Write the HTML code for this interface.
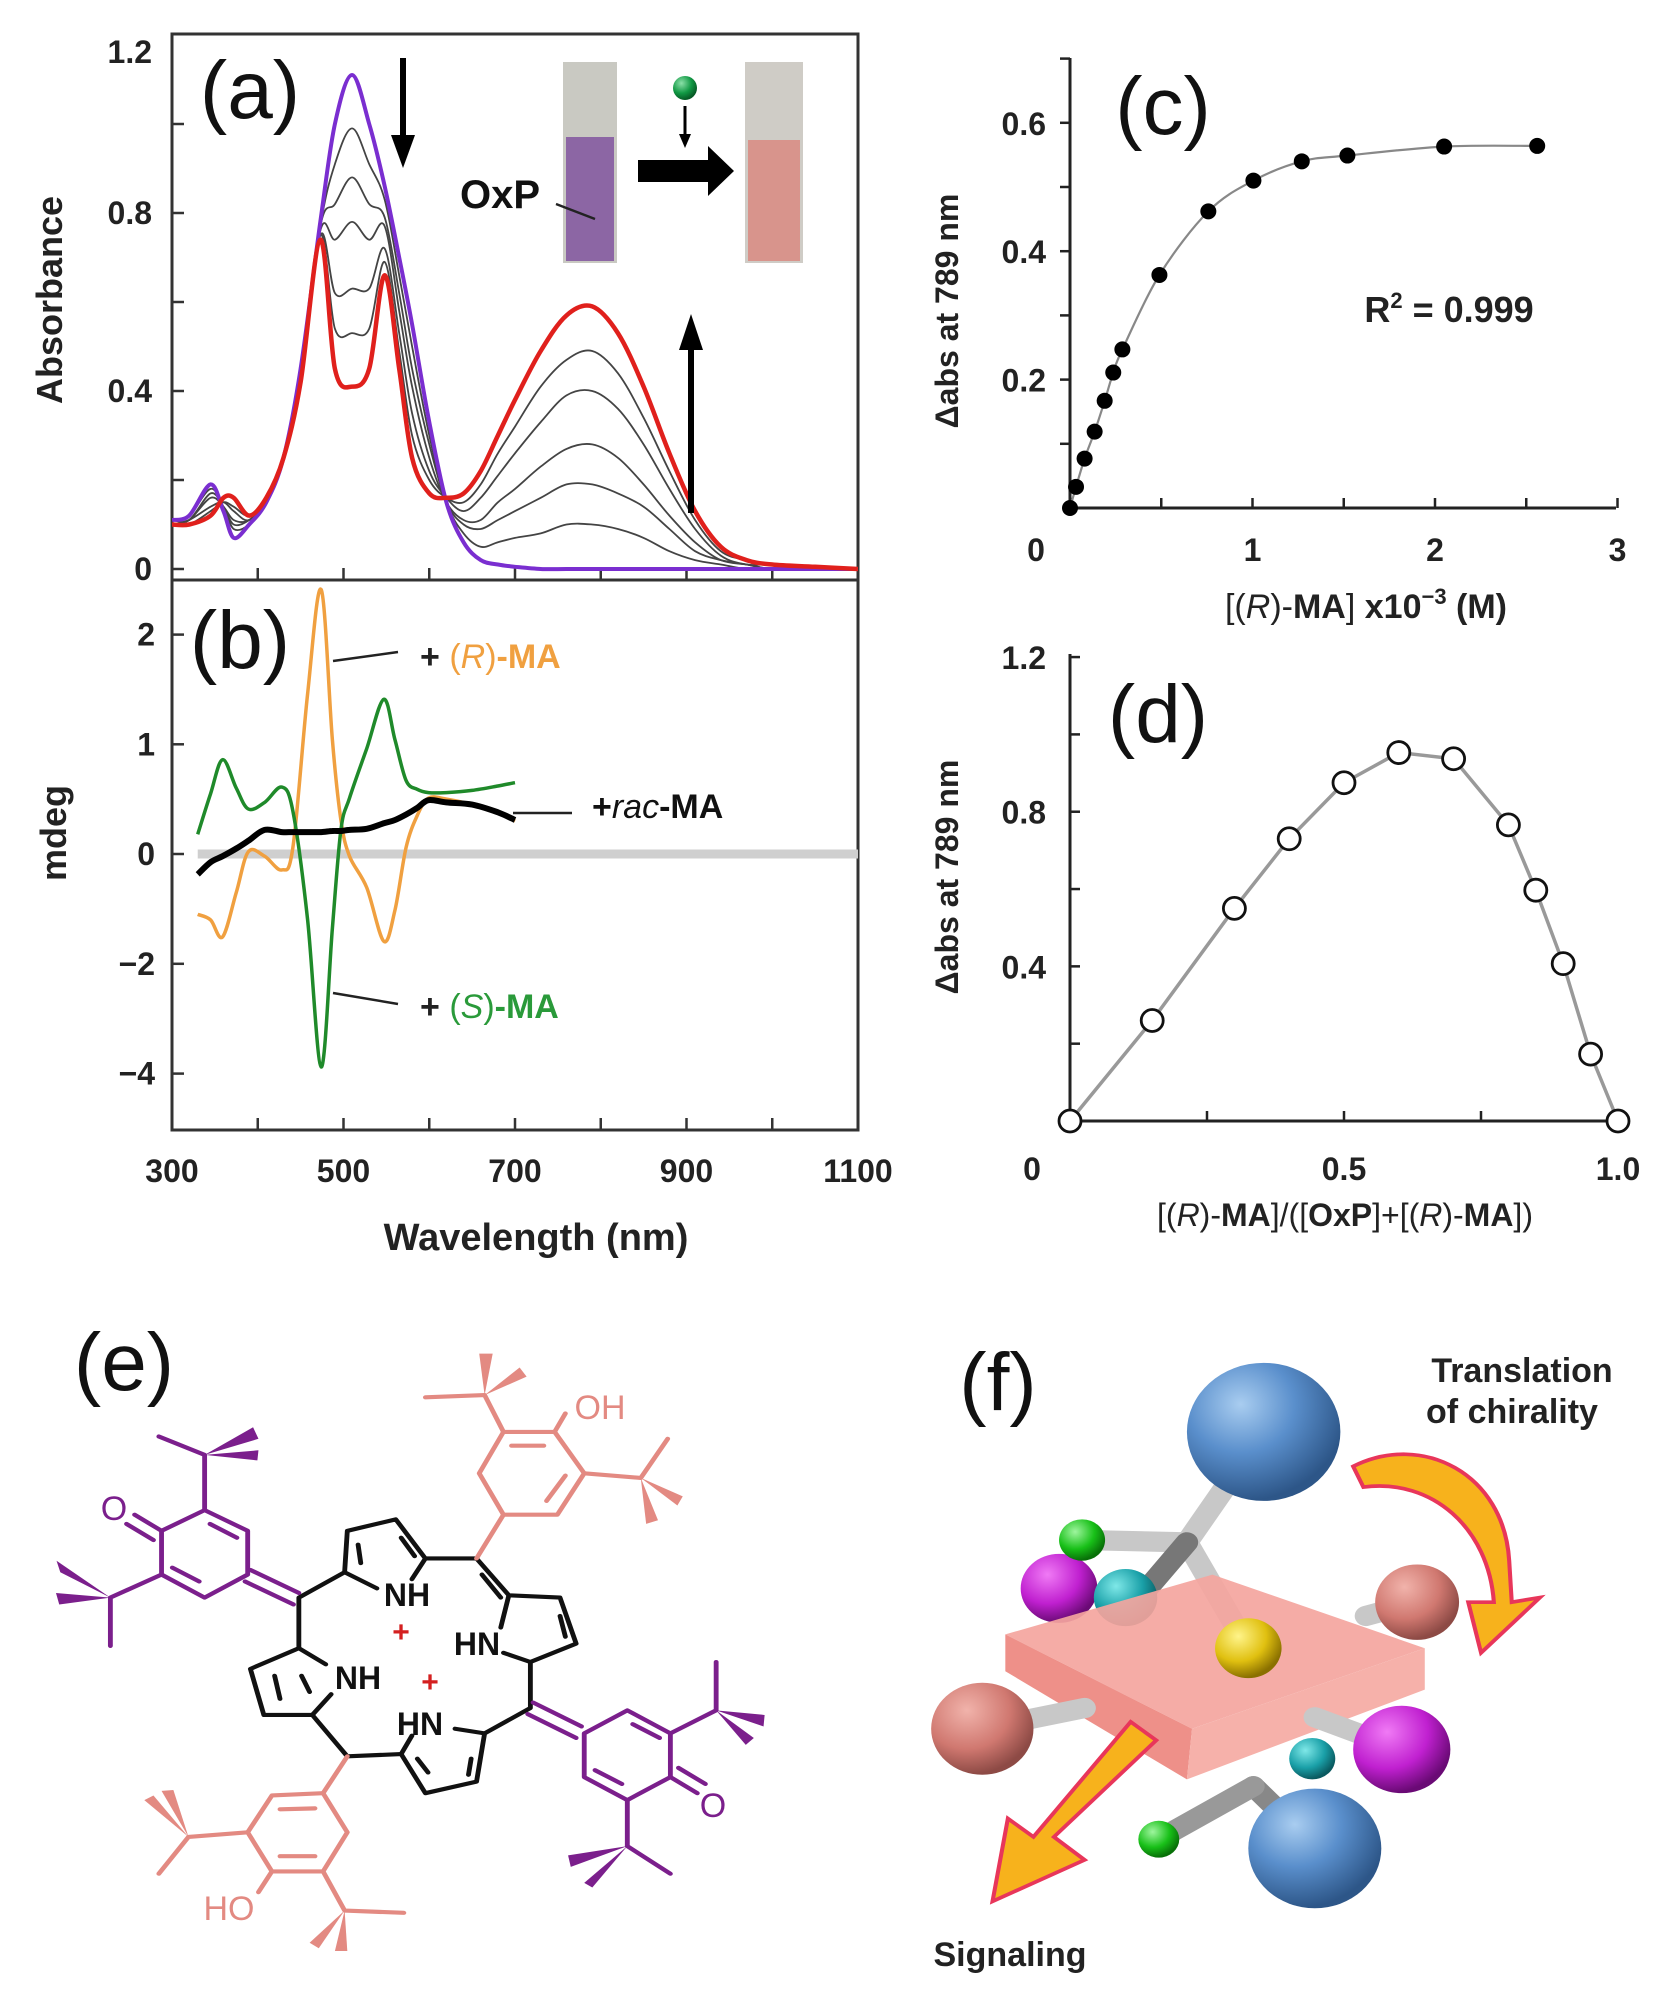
<!DOCTYPE html>
<html><head><meta charset="utf-8"><style>
html,body{margin:0;padding:0;background:#fff;}
svg{display:block;font-family:"Liberation Sans",Arial,sans-serif;}
</style></head><body>
<svg id="fig" width="1678" height="1998" viewBox="0 0 1678 1998" xmlns="http://www.w3.org/2000/svg">
<defs>
<clipPath id="clipA"><rect x="172" y="34" width="686" height="546"/></clipPath>
<clipPath id="clipB"><rect x="172" y="580" width="686" height="550"/></clipPath>
<radialGradient id="gBlue" cx="0.35" cy="0.3" r="0.7"><stop offset="0" stop-color="#a9cdf0"/><stop offset="0.5" stop-color="#5a8fcc"/><stop offset="1" stop-color="#2d5688"/></radialGradient>
<radialGradient id="gSalmon" cx="0.35" cy="0.3" r="0.7"><stop offset="0" stop-color="#f1b3ab"/><stop offset="0.6" stop-color="#d07870"/><stop offset="1" stop-color="#8d4a45"/></radialGradient>
<radialGradient id="gMag" cx="0.35" cy="0.3" r="0.7"><stop offset="0" stop-color="#f07af5"/><stop offset="0.6" stop-color="#c020d0"/><stop offset="1" stop-color="#6a0a75"/></radialGradient>
<radialGradient id="gCyan" cx="0.35" cy="0.3" r="0.7"><stop offset="0" stop-color="#7fe8e8"/><stop offset="0.6" stop-color="#1aa0a8"/><stop offset="1" stop-color="#0a5a60"/></radialGradient>
<radialGradient id="gGreen" cx="0.35" cy="0.3" r="0.7"><stop offset="0" stop-color="#9ef59e"/><stop offset="0.6" stop-color="#18c018"/><stop offset="1" stop-color="#087008"/></radialGradient>
<radialGradient id="gYel" cx="0.35" cy="0.3" r="0.7"><stop offset="0" stop-color="#fff48a"/><stop offset="0.6" stop-color="#e0c010"/><stop offset="1" stop-color="#8a7000"/></radialGradient>
<radialGradient id="gBall" cx="0.35" cy="0.3" r="0.7"><stop offset="0" stop-color="#8be0a8"/><stop offset="0.6" stop-color="#119944"/><stop offset="1" stop-color="#065a25"/></radialGradient>
</defs>

<!-- Panel a/b frame -->
<g>
<rect x="172" y="34" width="686" height="1096" fill="none" stroke="#333" stroke-width="3"/>
<line x1="172" y1="580" x2="858" y2="580" stroke="#333" stroke-width="3"/>
<g id="ticksAB"></g>
<g id="seriesA" clip-path="url(#clipA)"></g>
<g id="seriesB" clip-path="url(#clipB)"></g>
<g id="labelsAB" font-weight="bold" font-size="32" fill="#222"></g>
<text x="250" y="118" font-size="82" fill="#111" text-anchor="middle">(a)</text>
<text x="240" y="668" font-size="82" fill="#111" text-anchor="middle">(b)</text>
<text transform="translate(62,300) rotate(-90)" font-size="36" font-weight="bold" fill="#222" text-anchor="middle">Absorbance</text>
<text transform="translate(66,833) rotate(-90)" font-size="36" font-weight="bold" fill="#222" text-anchor="middle">mdeg</text>
<text x="536" y="1250" font-size="38" font-weight="bold" fill="#222" text-anchor="middle">Wavelength (nm)</text>
<!-- arrows in (a) -->
<g><line x1="403" y1="58" x2="403" y2="140" stroke="#000" stroke-width="6"/><polygon points="391,135 415,135 403,168" fill="#000"/></g>
<g><line x1="691" y1="513" x2="691" y2="345" stroke="#000" stroke-width="6"/><polygon points="679,350 703,350 691,314" fill="#000"/></g>
<!-- inset -->
<g>
<rect x="563" y="62" width="54" height="201" fill="#c9c9c2"/>
<rect x="566" y="137" width="48" height="124" fill="#8c66a4"/>
<rect x="745" y="62" width="58" height="201" fill="#cfccc6"/>
<rect x="748" y="140" width="52" height="121" fill="#d8948c"/>
<rect x="638" y="160" width="74" height="22" fill="#000"/>
<polygon points="708,146 734,171 708,196" fill="#000"/>
<circle cx="685" cy="88" r="12" fill="url(#gBall)"/>
<line x1="685" y1="106" x2="685" y2="138" stroke="#000" stroke-width="3"/><polygon points="679,134 691,134 685,148" fill="#000"/>
<text x="500" y="208" font-size="40" font-weight="bold" fill="#111" text-anchor="middle">OxP</text>
<line x1="556" y1="204" x2="595" y2="219" stroke="#222" stroke-width="2.5"/>
</g>
<!-- legend labels in (b) -->
<g font-size="34" font-weight="bold">
<line x1="333" y1="661" x2="398" y2="652" stroke="#222" stroke-width="2.5"/>
<text x="420" y="668"><tspan fill="#222">+ </tspan><tspan fill="#f0a040" font-weight="normal">(</tspan><tspan fill="#f0a040" font-weight="normal" font-style="italic">R</tspan><tspan fill="#f0a040" font-weight="normal">)</tspan><tspan fill="#f0a040">-MA</tspan></text>
<line x1="333" y1="993" x2="398" y2="1004" stroke="#222" stroke-width="2.5"/>
<text x="420" y="1018"><tspan fill="#222">+ </tspan><tspan fill="#2a9a3a" font-weight="normal">(</tspan><tspan fill="#2a9a3a" font-weight="normal" font-style="italic">S</tspan><tspan fill="#2a9a3a" font-weight="normal">)</tspan><tspan fill="#2a9a3a">-MA</tspan></text>
<line x1="513" y1="813" x2="572" y2="813" stroke="#222" stroke-width="2.5"/>
<text x="592" y="818" fill="#111">+<tspan font-weight="normal" font-style="italic">rac</tspan>-MA</text>
</g>
</g>

<!-- Panel c -->
<g>
<g id="axesC"></g><g id="seriesC"></g>
<text x="1163" y="134" font-size="82" fill="#111" text-anchor="middle">(c)</text>
<text x="1449" y="322" font-size="36" font-weight="bold" fill="#222" text-anchor="middle">R<tspan font-size="22" dy="-14">2</tspan><tspan dy="14"> = 0.999</tspan></text>
<text transform="translate(958,311) rotate(-90)" font-size="32" font-weight="bold" fill="#222" text-anchor="middle">Δabs at 789 nm</text>
<text x="1366" y="618" font-size="34" fill="#222" text-anchor="middle">[(<tspan font-style="italic">R</tspan>)-<tspan font-weight="bold">MA</tspan>] <tspan font-weight="bold">x10</tspan><tspan font-size="22" dy="-14" font-weight="bold">−3</tspan><tspan dy="14" font-weight="bold"> (M)</tspan></text>
</g>

<!-- Panel d -->
<g>
<g id="axesD"></g><g id="seriesD"></g>
<text x="1158" y="742" font-size="82" fill="#111" text-anchor="middle">(d)</text>
<text transform="translate(958,877) rotate(-90)" font-size="32" font-weight="bold" fill="#222" text-anchor="middle">Δabs at 789 nm</text>
<text x="1345" y="1226" font-size="32" fill="#222" text-anchor="middle">[(<tspan font-style="italic">R</tspan>)-<tspan font-weight="bold">MA</tspan>]/([<tspan font-weight="bold">OxP</tspan>]+[(<tspan font-style="italic">R</tspan>)-<tspan font-weight="bold">MA</tspan>])</text>
</g>

<!-- Panel e: structure -->
<g>
<svg x="0" y="1280" width="840" height="718" viewBox="0 0 1560 1560" preserveAspectRatio="none" overflow="visible">
<g fill="none" stroke-width="9" stroke-linecap="round" stroke-linejoin="round">
<g stroke="#111">
<path d="M555,690 L640,635 L645,545 L735,520 L790,605 L885,605 L945,685 L1040,690 L1070,790 L985,830 L985,930 L900,985 L885,1090 L790,1115 L745,1030 L645,1035 L580,945 L490,945 L465,845 L555,800 Z"/>
<path d="M640,635 L700,670 M790,605 L765,650 M945,685 L930,755 M985,830 L935,810 M900,985 L845,975 M745,1030 L765,990 M580,945 L615,900 M555,800 L605,835"/>
<path d="M665,575 L670,615 M745,560 L770,600 M895,640 L930,690 M1040,730 L1050,775 M875,1040 L870,1075 M795,1070 L775,1040 M510,860 L520,910 M560,860 L575,895"/>
</g>
<g stroke="#7b1f8c">
<path d="M380,500 L460,545 L460,640 L380,690 L300,640 L300,545 Z"/>
<path d="M390,530 L440,560 M320,625 L370,655"/>
<path d="M465,630 L555,680 M455,655 L545,705"/>
<path d="M300,545 L250,510 M285,565 L235,530"/>
<path d="M380,500 L380,380 L295,340 M300,640 L205,690 L205,795"/>
</g>
<g fill="#7b1f8c"><polygon points="380,380 470,320 480,345"/><polygon points="380,380 480,370 478,392"/><polygon points="205,690 105,610 112,635"/><polygon points="205,690 104,680 110,705"/></g>
<g stroke="#7b1f8c">
<path d="M1165,935 L1245,985 L1245,1080 L1165,1130 L1085,1080 L1085,985 Z"/>
<path d="M1175,965 L1225,995 M1105,1065 L1155,1095"/>
<path d="M990,918 L1080,970 M980,943 L1070,995"/>
<path d="M1245,1080 L1295,1115 M1260,1060 L1310,1095"/>
<path d="M1245,985 L1330,935 L1330,830 M1165,1130 L1165,1230 L1245,1290"/>
</g>
<g fill="#7b1f8c"><polygon points="1330,935 1420,945 1418,970"/><polygon points="1330,935 1385,1010 1400,995"/><polygon points="1165,1230 1055,1250 1060,1275"/><polygon points="1165,1230 1085,1310 1100,1320"/></g>
<g stroke="#e38a82">
<path d="M935,330 L1030,330 L1085,420 L1035,510 L935,510 L890,420 Z"/>
<path d="M950,360 L1010,360 M1050,425 L1015,480"/>
<path d="M885,605 L935,510 M1030,330 L1050,290 M935,330 L900,250 L790,255 M1085,420 L1190,430 L1240,345"/>
</g>
<g fill="#e38a82"><polygon points="900,250 890,160 915,160"/><polygon points="900,250 965,190 978,210"/><polygon points="1190,430 1200,530 1222,522"/><polygon points="1190,430 1258,490 1268,470"/></g>
<g stroke="#e38a82">
<path d="M505,1120 L600,1115 L645,1200 L600,1285 L505,1285 L460,1200 Z"/>
<path d="M520,1150 L585,1148 M520,1252 L585,1252"/>
<path d="M645,1035 L600,1115 M505,1285 L480,1330 M460,1200 L350,1210 L295,1290 M600,1285 L640,1370 L750,1375"/>
</g>
<g fill="#e38a82"><polygon points="350,1210 268,1130 285,1120"/><polygon points="350,1210 300,1110 322,1108"/><polygon points="640,1370 575,1440 592,1452"/><polygon points="640,1370 622,1458 645,1458"/></g>
</g>
</svg>
<text x="124" y="1390" font-size="82" fill="#111" text-anchor="middle">(e)</text>
<g font-size="32" font-weight="bold" fill="#111" text-anchor="middle">
<text x="407" y="1606">NH</text><text x="477" y="1655">HN</text><text x="358" y="1689">NH</text><text x="420" y="1735">HN</text>
</g>
<g font-size="30" font-weight="bold" fill="#d42020" text-anchor="middle"><text x="401" y="1642">+</text><text x="430" y="1692">+</text></g>
<g font-size="34" text-anchor="middle">
<text x="600" y="1419" fill="#e38a82">OH</text><text x="229" y="1920" fill="#e38a82">HO</text>
<text x="114" y="1520" fill="#7b1f8c">O</text><text x="713" y="1817" fill="#7b1f8c">O</text>
</g>
</g>

<!-- Panel f: 3D model -->
<g>
<svg x="880" y="1280" width="798" height="718" viewBox="0 0 1560 1560" preserveAspectRatio="none" overflow="visible">
<g stroke="#c8c8c8" stroke-width="44" stroke-linecap="round">
<line x1="600" y1="570" x2="750" y2="330"/><line x1="600" y1="570" x2="395" y2="565"/><line x1="600" y1="570" x2="720" y2="800"/><line x1="600" y1="570" x2="500" y2="700" stroke="#777"/>
<line x1="950" y1="730" x2="1050" y2="700"/>
</g>
<circle cx="750" cy="330" r="150" fill="url(#gBlue)"/>
<circle cx="1050" cy="700" r="82" fill="url(#gSalmon)"/>
<circle cx="350" cy="670" r="75" fill="url(#gMag)"/>
<circle cx="480" cy="690" r="62" fill="url(#gCyan)"/>
<circle cx="395" cy="565" r="45" fill="url(#gGreen)"/>
<polygon points="245,770 650,640 1065,800 610,975" fill="#f4a59e" opacity="0.92"/>
<polygon points="245,770 610,975 600,1085 245,850" fill="#ee9089"/>
<polygon points="610,975 1065,800 1065,890 600,1085" fill="#f6b1aa"/>
<circle cx="720" cy="800" r="65" fill="url(#gYel)"/>
<g stroke="#c8c8c8" stroke-width="44" stroke-linecap="round">
<line x1="200" y1="975" x2="400" y2="930"/><line x1="850" y1="950" x2="1020" y2="1020"/>
<line x1="730" y1="1100" x2="850" y2="1230" stroke="#888"/><line x1="730" y1="1100" x2="545" y2="1215" stroke="#999"/>
</g>
<circle cx="200" cy="975" r="100" fill="url(#gSalmon)"/>
<circle cx="845" cy="1040" r="45" fill="url(#gCyan)"/>
<circle cx="1020" cy="1020" r="95" fill="url(#gMag)"/>
<circle cx="545" cy="1215" r="40" fill="url(#gGreen)"/>
<circle cx="850" cy="1235" r="130" fill="url(#gBlue)"/>
<path d="M925,405 C1060,330 1220,420 1230,610 L1235,700 L1290,690 L1175,810 L1150,700 L1200,700 C1190,540 1080,430 945,450 Z" fill="#f7b21c" stroke="#e8365a" stroke-width="8"/>
<path d="M490,960 L540,1000 L340,1210 L400,1260 L220,1350 L250,1170 L300,1210 Z" fill="#f7b21c" stroke="#e8365a" stroke-width="8"/>
</svg>
<text x="998" y="1410" font-size="82" fill="#111" text-anchor="middle">(f)</text>
<g font-size="34" font-weight="bold" fill="#222" text-anchor="middle">
<text x="1522" y="1382">Translation</text>
<text x="1512" y="1423">of chirality</text>
<text x="1010" y="1966">Signaling</text>
</g>
</g>
</svg>

<script>
// ---------- Data ----------
const wl = [300,320,345,360,372,390,410,430,450,473,490,510,530,548,565,580,600,620,640,660,680,700,730,760,790,820,850,880,910,940,970,1000,1050,1100];
const absPurple = [.11,.12,.19,.13,.07,.10,.15,.25,.45,.78,1.0,1.11,1.0,.86,.70,.55,.33,.15,.06,.02,.01,.005,0,0,0,0,0,0,0,0,0,0,0,0];
const absRed = [.10,.10,.12,.16,.16,.12,.16,.25,.42,.74,.45,.41,.45,.66,.45,.25,.17,.16,.17,.22,.30,.38,.49,.57,.59,.53,.41,.26,.13,.05,.02,.01,.005,0];
const absMid1 = [.11,.12,.18,.14,.09,.10,.15,.25,.45,.77,.91,.99,.91,.83,.66,.50,.30,.15,.08,.05,.06,.07,.08,.10,.10,.09,.07,.04,.02,.01,0,0,0,0];
const absMid2 = [.11,.11,.17,.14,.10,.11,.15,.25,.44,.77,.82,.88,.82,.79,.62,.45,.28,.15,.10,.09,.11,.13,.16,.19,.19,.17,.14,.09,.04,.02,.01,0,0,0];
const absMid3 = [.10,.11,.16,.14,.11,.11,.15,.25,.44,.76,.74,.78,.74,.77,.58,.41,.25,.15,.11,.11,.15,.18,.23,.27,.28,.25,.19,.12,.06,.02,.01,0,0,0];
const absMid4 = [.10,.11,.14,.15,.13,.11,.16,.25,.43,.75,.62,.63,.63,.72,.53,.35,.22,.16,.13,.16,.21,.26,.33,.39,.40,.36,.28,.18,.09,.03,.01,.01,0,0];
const absMid5 = [.10,.10,.13,.15,.14,.12,.16,.25,.43,.75,.54,.53,.54,.69,.49,.30,.20,.16,.15,.19,.26,.32,.41,.47,.49,.44,.34,.22,.11,.04,.02,.01,0,0];

const cdWl = [330,345,359,375,389,408,428,441,458,474,487,497,507,527,547,560,573,586,599,620,650,680,700];
const cdR = [-1.10,-1.2,-1.51,-0.7,0.02,-0.04,-0.29,0.06,1.45,2.41,1.04,0.31,-0.04,-0.61,-1.59,-1.02,0.06,0.35,0.51,0.50,0.45,0.38,0.30];
const cdS = [0.18,0.55,0.86,0.6,0.41,0.47,0.61,0.39,-1.18,-3.88,-1.35,0.22,0.51,0.96,1.41,1.04,0.67,0.59,0.56,0.56,0.58,0.62,0.65];
const cdRac = [-0.37,-0.15,-0.04,0.05,0.12,0.22,0.20,0.20,0.20,0.20,0.21,0.21,0.22,0.23,0.28,0.31,0.36,0.42,0.49,0.47,0.45,0.38,0.31];

const cX = [0.0,0.033,0.08,0.135,0.19,0.237,0.287,0.49,0.758,1.005,1.27,1.52,2.05,2.56];
const cY = [0.0,0.033,0.077,0.119,0.167,0.211,0.247,0.363,0.462,0.51,0.54,0.549,0.563,0.564];

const dX = [0,0.15,0.30,0.40,0.50,0.60,0.70,0.80,0.85,0.90,0.95,1.0];
const dY = [0,0.26,0.55,0.73,0.875,0.953,0.937,0.766,0.597,0.407,0.173,0];

const xTicksAB = [300,500,700,900,1100];
const yTicksA = [0,0.4,0.8,1.2];
const yTicksB = [2,1,0,-2,-4];
const xTicksC = [0,1,2,3];
const yTicksC = [0.2,0.4,0.6];
const xTicksD = [0,0.5,1.0];
const yTicksD = [0.4,0.8,1.2];

// ---------- Scales ----------
const NS = 'http://www.w3.org/2000/svg';
function xW(nm){ return 172 + (nm-300)*0.8575; }
function yA(v){ return 569 - 445*v; }
function yB(v){ return v >= 0 ? 854 - 109.7*v : 854 - 54.9*v; }
function xC(v){ return 1070 + 182.5*v; }
function yC(v){ return 508 - 642*v; }
function xD(v){ return 1070 + 548*v; }
function yD(v){ return 1121 - 386.6*v; }

function mk(tag, attrs, parent){
  const e = document.createElementNS(NS, tag);
  for (const k in attrs) e.setAttribute(k, attrs[k]);
  parent.appendChild(e);
  return e;
}
function smooth(pts){
  let d = 'M' + pts[0][0].toFixed(1) + ',' + pts[0][1].toFixed(1);
  for (let i=0;i<pts.length-1;i++){
    const p0 = pts[Math.max(0,i-1)], p1 = pts[i], p2 = pts[i+1], p3 = pts[Math.min(pts.length-1,i+2)];
    const c1x = p1[0]+(p2[0]-p0[0])/6, c1y = p1[1]+(p2[1]-p0[1])/6;
    const c2x = p2[0]-(p3[0]-p1[0])/6, c2y = p2[1]-(p3[1]-p1[1])/6;
    d += ' C'+c1x.toFixed(1)+','+c1y.toFixed(1)+' '+c2x.toFixed(1)+','+c2y.toFixed(1)+' '+p2[0].toFixed(1)+','+p2[1].toFixed(1);
  }
  return d;
}

// ---------- Panel a ----------
const gA = document.getElementById('seriesA');
const mids = [absMid1,absMid2,absMid3,absMid4,absMid5];
mids.forEach(function(s, i){
  const p = mk('path', {d: smooth(wl.map((w,j)=>[xW(w), yA(s[j])])), fill:'none', stroke:'#444', 'stroke-width':1.8}, gA);
  
  
});
const pP = mk('path', {d: smooth(wl.map((w,j)=>[xW(w), yA(absPurple[j])])), fill:'none', stroke:'#7a2ed0', 'stroke-width':4}, gA);


const pR = mk('path', {d: smooth(wl.map((w,j)=>[xW(w), yA(absRed[j])])), fill:'none', stroke:'#e0201c', 'stroke-width':4.5}, gA);



// ---------- Panel b ----------
const gB = document.getElementById('seriesB');
const zl = mk('line', {x1:xW(330), y1:yB(0), x2:858, y2:yB(0), stroke:'#cfcfcf', 'stroke-width':9}, gB);


const pBr = mk('path', {d: smooth(cdWl.map((w,j)=>[xW(w), yB(cdR[j])])), fill:'none', stroke:'#f0a040', 'stroke-width':3.5}, gB);


const pBs = mk('path', {d: smooth(cdWl.map((w,j)=>[xW(w), yB(cdS[j])])), fill:'none', stroke:'#1f8a2a', 'stroke-width':3.5}, gB);


const pBc = mk('path', {d: smooth(cdWl.map((w,j)=>[xW(w), yB(cdRac[j])])), fill:'none', stroke:'#000', 'stroke-width':6}, gB);



// ---------- Ticks a/b ----------
const gT = document.getElementById('ticksAB');
const gL = document.getElementById('labelsAB');
for (let w=400; w<=1000; w+=100){
  mk('line', {x1:xW(w), y1:580, x2:xW(w), y2:568, stroke:'#333', 'stroke-width':2.5}, gT);
  mk('line', {x1:xW(w), y1:1130, x2:xW(w), y2:1118, stroke:'#333', 'stroke-width':2.5}, gT);
}
for (let v=0.2; v<1.19; v+=0.2){ mk('line', {x1:172, y1:yA(v), x2:184, y2:yA(v), stroke:'#333', 'stroke-width':2.5}, gT); }
mk('line', {x1:172, y1:yA(0), x2:184, y2:yA(0), stroke:'#333', 'stroke-width':2.5}, gT);
yTicksB.forEach(v=>{ mk('line', {x1:172, y1:yB(v), x2:184, y2:yB(v), stroke:'#333', 'stroke-width':2.5}, gT); });
xTicksAB.forEach(w=>{
  const t = mk('text', {x:xW(w), y:1182, 'text-anchor':'middle'}, gL);
  t.textContent = String(w);
  
  
});
yTicksA.forEach(v=>{
  const t = mk('text', {x:152, y:Math.max(yA(v),52)+11, 'text-anchor':'end'}, gL);
  t.textContent = v===0 ? '0' : v.toFixed(1);
  
  
});
yTicksB.forEach(v=>{
  const t = mk('text', {x:155, y:yB(v)+11, 'text-anchor':'end'}, gL);
  t.textContent = v<0 ? '\u2212'+Math.abs(v) : String(v);
  
  
});

// ---------- Panel c ----------
const aC = document.getElementById('axesC');
mk('line', {x1:1070, y1:58, x2:1070, y2:508, stroke:'#222', 'stroke-width':3}, aC);
mk('line', {x1:1070, y1:508, x2:1616, y2:508, stroke:'#222', 'stroke-width':3}, aC);
for (let v=0.1; v<0.75; v+=0.1){ mk('line', {x1:1060, y1:yC(v), x2:1070, y2:yC(v), stroke:'#222', 'stroke-width':2.5}, aC); }
for (let v=0.5; v<=3.01; v+=0.5){ mk('line', {x1:xC(v), y1:498, x2:xC(v), y2:508, stroke:'#222', 'stroke-width':2.5}, aC); }
yTicksC.forEach(v=>{
  const t = mk('text', {x:1046, y:yC(v)+12, 'text-anchor':'end', 'font-size':32, 'font-weight':'bold', fill:'#222'}, aC);
  t.textContent = v.toFixed(1);
  
  
});
xTicksC.forEach(v=>{
  const t = mk('text', {x: v===0 ? 1036 : xC(v), y:561, 'text-anchor':'middle', 'font-size':32, 'font-weight':'bold', fill:'#222'}, aC);
  t.textContent = String(v);
  
  
});
const sC = document.getElementById('seriesC');
const fitC = mk('path', {d: smooth(cX.map((x,i)=>[xC(x), yC(cY[i])])), fill:'none', stroke:'#888', 'stroke-width':2.2}, sC);


cX.forEach((x,i)=>{
  const c = mk('circle', {cx:xC(x), cy:yC(cY[i]), r:8, fill:'#000'}, sC);
  
  
});

// ---------- Panel d ----------
const aD = document.getElementById('axesD');
mk('line', {x1:1070, y1:654, x2:1070, y2:1121, stroke:'#222', 'stroke-width':3}, aD);
mk('line', {x1:1070, y1:1121, x2:1618, y2:1121, stroke:'#222', 'stroke-width':3}, aD);
for (let v=0.2; v<1.21; v+=0.2){ mk('line', {x1:1070, y1:yD(v), x2:1080, y2:yD(v), stroke:'#222', 'stroke-width':2.5}, aD); }
for (let v=0.25; v<0.99; v+=0.25){ mk('line', {x1:xD(v), y1:1111, x2:xD(v), y2:1121, stroke:'#222', 'stroke-width':2.5}, aD); }
yTicksD.forEach(v=>{
  const t = mk('text', {x:1046, y:yD(v)+12, 'text-anchor':'end', 'font-size':32, 'font-weight':'bold', fill:'#222'}, aD);
  t.textContent = v.toFixed(1);
  
  
});
xTicksD.forEach(v=>{
  const t = mk('text', {x: v===0 ? 1032 : xD(v), y:1180, 'text-anchor':'middle', 'font-size':32, 'font-weight':'bold', fill:'#222'}, aD);
  t.textContent = v===0 ? '0' : v.toFixed(1);
  
  
});
const sD = document.getElementById('seriesD');
const lnD = mk('polyline', {points: dX.map((x,i)=>xD(x)+','+yD(dY[i])).join(' '), fill:'none', stroke:'#999', 'stroke-width':3.5}, sD);


dX.forEach((x,i)=>{
  const c = mk('circle', {cx:xD(x), cy:yD(dY[i]), r:11, fill:'#fff', stroke:'#111', 'stroke-width':2.8}, sD);
  
  
});
</script>
</body></html>
